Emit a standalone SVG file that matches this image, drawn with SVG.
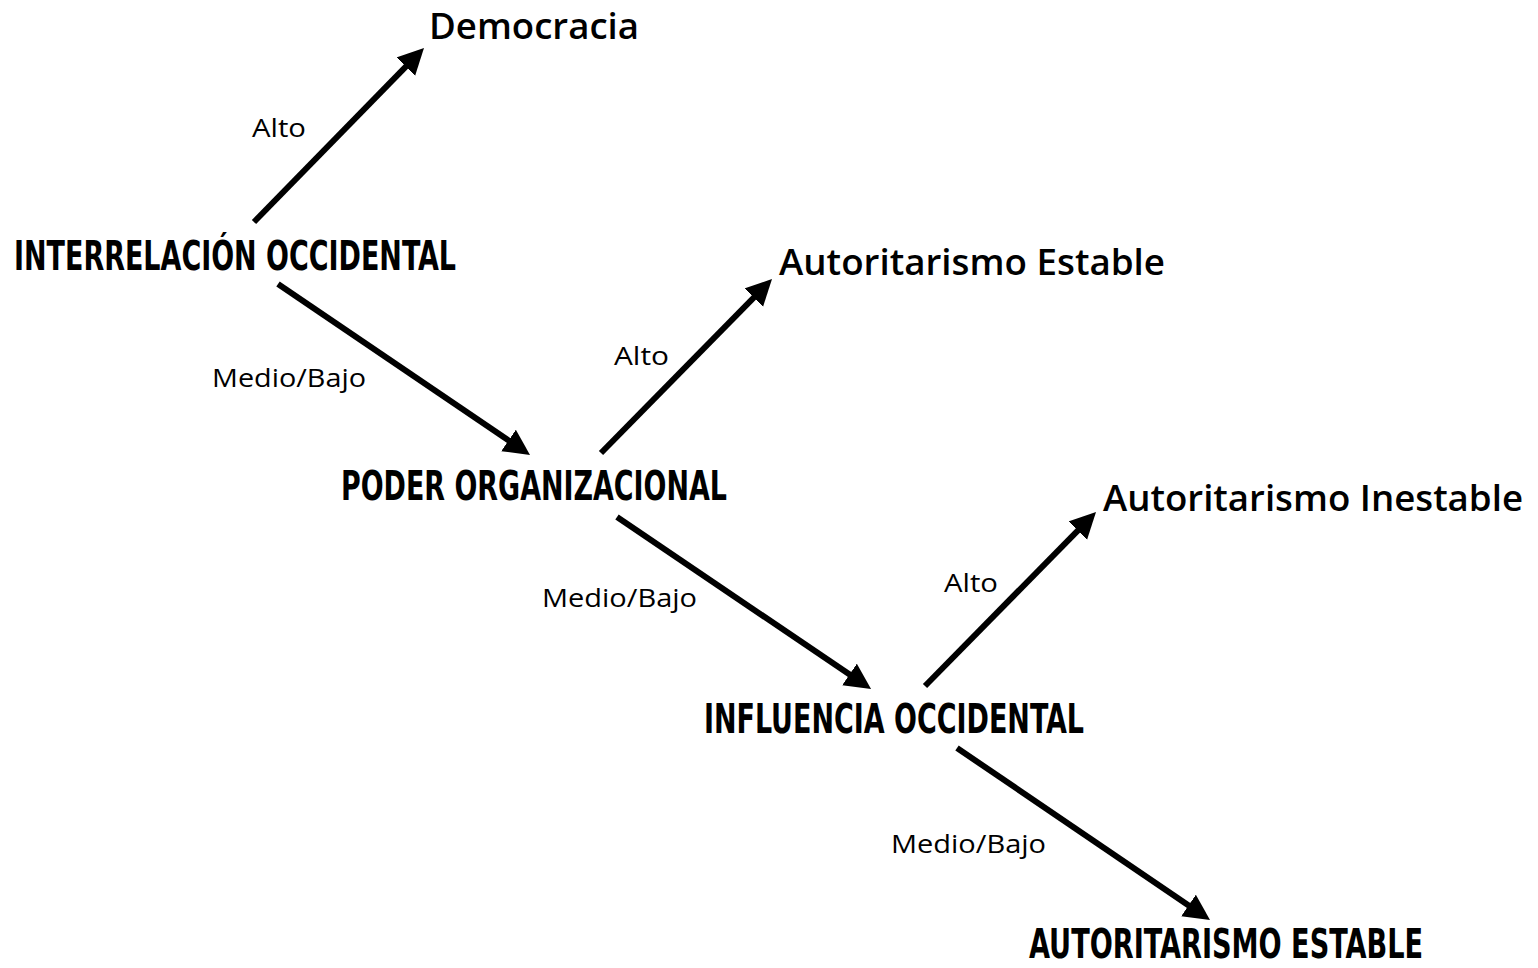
<svg xmlns="http://www.w3.org/2000/svg" width="1538" height="968" viewBox="0 0 1538 968">
<style>
.bold{font-family:"DejaVu Sans Condensed","DejaVu Sans","Liberation Sans",sans-serif;font-stretch:condensed;font-weight:bold;font-size:40px;fill:#000}
.out{font-family:"Open Sans","Noto Sans","Liberation Sans",sans-serif;font-weight:600;font-size:36px;fill:#000}
.lbl{font-family:"Open Sans","Noto Sans","Liberation Sans",sans-serif;font-size:25px;fill:#000}
.conn line{stroke:#000;stroke-width:6;fill:none;marker-end:url(#ah)}
</style>
<defs>
<marker id="ah" markerUnits="userSpaceOnUse" markerWidth="28" markerHeight="28" refX="14" refY="13" orient="auto" viewBox="0 0 28 28">
<path d="M0,0 L26,13 L0,26 z" fill="#000"/>
</marker>
</defs>
<rect width="1538" height="968" fill="#fff"/>
<g id="connectors" class="conn">
<line x1="254" y1="222" x2="415.6" y2="56.6"/>
<line x1="278" y1="284" x2="520.1" y2="448.3"/>
<line x1="601" y1="453" x2="763.6" y2="287.6"/>
<line x1="617" y1="517" x2="861.1" y2="682.3"/>
<line x1="925" y1="686" x2="1087.6" y2="520.6"/>
<line x1="957" y1="748" x2="1200.1" y2="913.3"/>
</g>
<g id="edge-labels">
<text class="lbl" x="252" y="137" textLength="54" lengthAdjust="spacingAndGlyphs">Alto</text>
<text class="lbl" x="212" y="387" textLength="154" lengthAdjust="spacingAndGlyphs">Medio/Bajo</text>
<text class="lbl" x="614" y="365" textLength="55" lengthAdjust="spacingAndGlyphs">Alto</text>
<text class="lbl" x="542" y="607" textLength="155" lengthAdjust="spacingAndGlyphs">Medio/Bajo</text>
<text class="lbl" x="944" y="592" textLength="54" lengthAdjust="spacingAndGlyphs">Alto</text>
<text class="lbl" x="891" y="853" textLength="155" lengthAdjust="spacingAndGlyphs">Medio/Bajo</text>
</g>
<g id="node-interrelacion"><text class="bold" x="14" y="270" textLength="442" lengthAdjust="spacingAndGlyphs">INTERRELACIÓN OCCIDENTAL</text></g>
<g id="node-poder"><text class="bold" x="341" y="500" textLength="386" lengthAdjust="spacingAndGlyphs">PODER ORGANIZACIONAL</text></g>
<g id="node-influencia"><text class="bold" x="704" y="733" textLength="380" lengthAdjust="spacingAndGlyphs">INFLUENCIA OCCIDENTAL</text></g>
<g id="node-autoritarismo-estable-final"><text class="bold" x="1029" y="958" font-size="38" textLength="394" lengthAdjust="spacingAndGlyphs">AUTORITARISMO ESTABLE</text></g>
<g id="node-democracia"><text class="out" x="429" y="39" textLength="210" lengthAdjust="spacingAndGlyphs">Democracia</text></g>
<g id="node-autoritarismo-estable"><text class="out" x="779" y="275" textLength="386" lengthAdjust="spacingAndGlyphs">Autoritarismo Estable</text></g>
<g id="node-autoritarismo-inestable"><text class="out" x="1103" y="511" textLength="420" lengthAdjust="spacingAndGlyphs">Autoritarismo Inestable</text></g>
</svg>
